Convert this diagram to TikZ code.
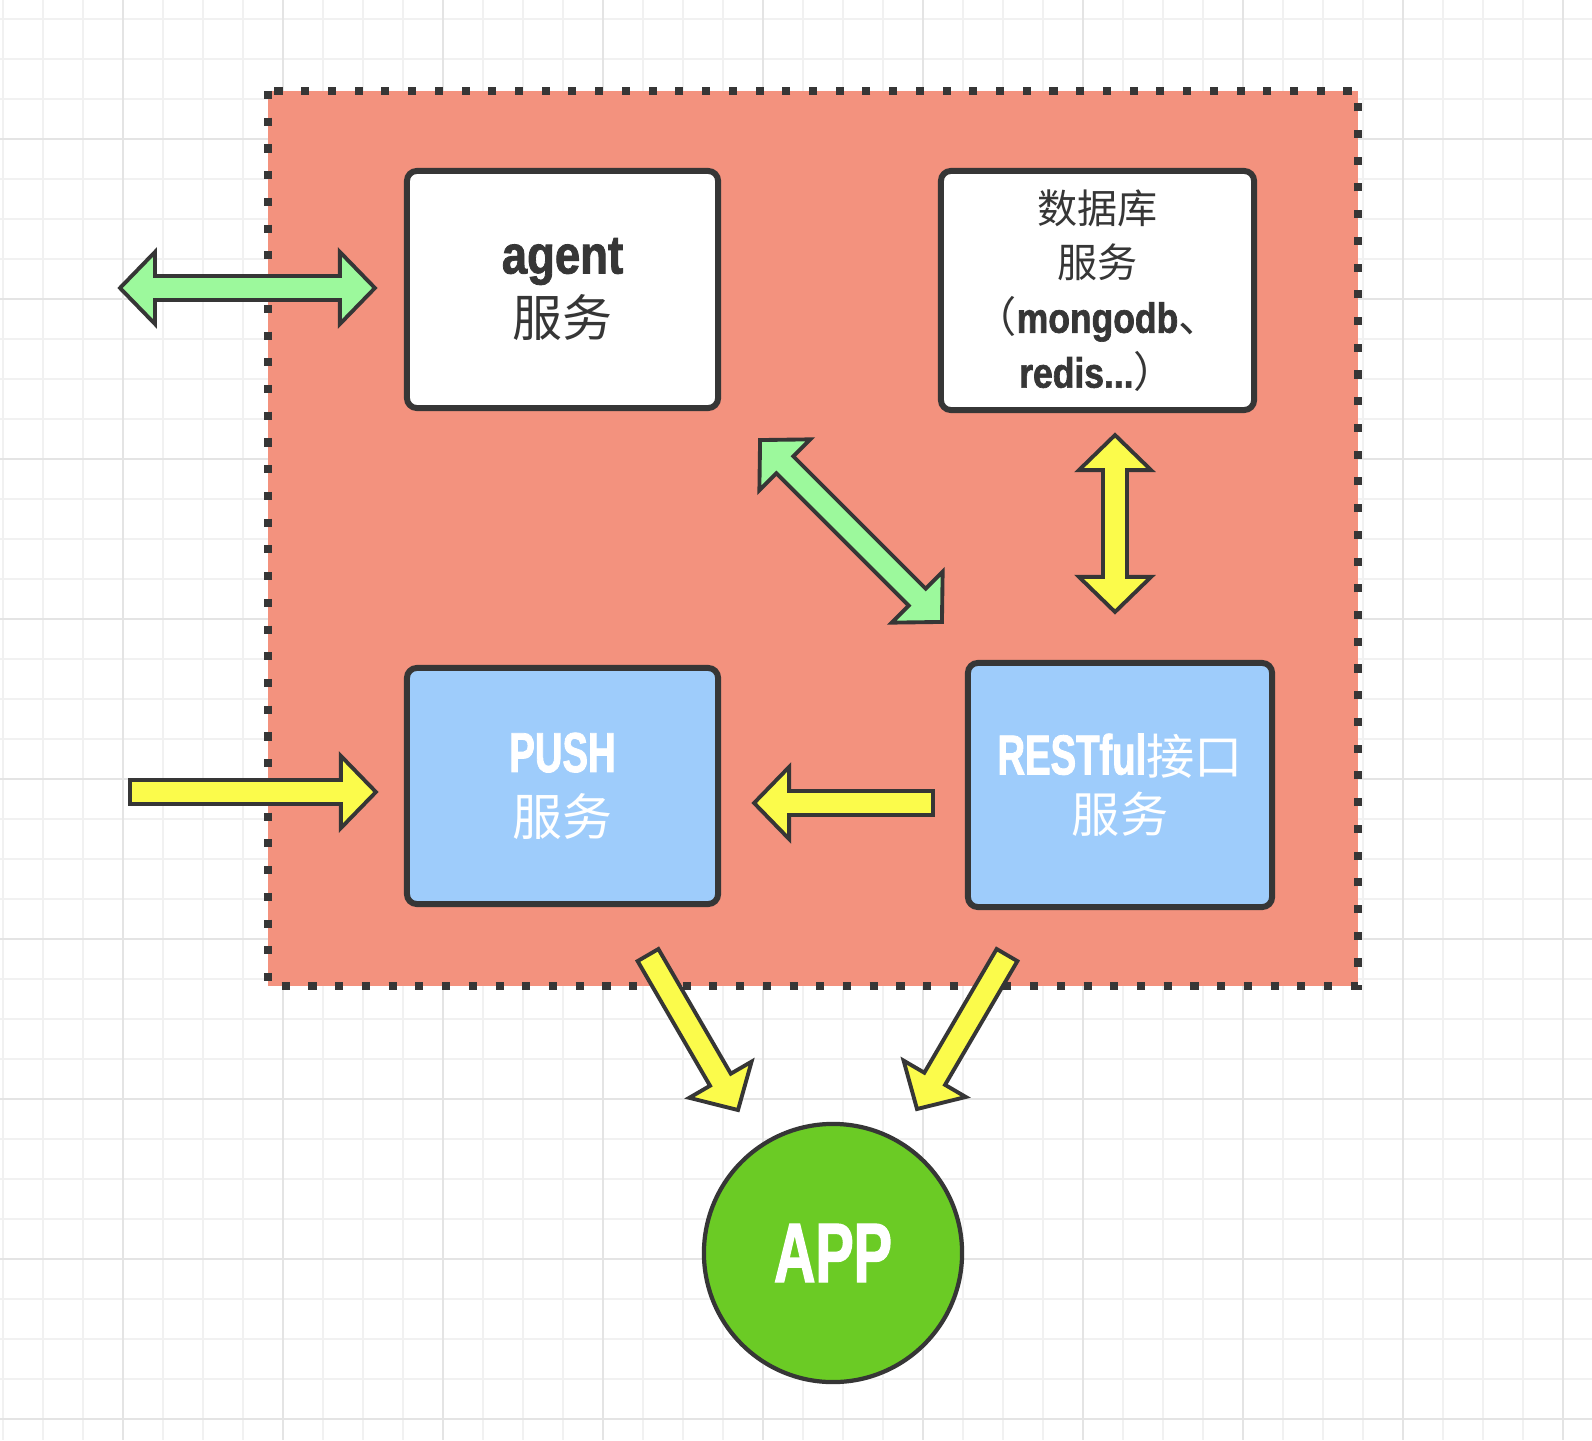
\documentclass[tikz,border=0pt]{standalone}
\usepackage{fontspec}
\usepackage{tikz}
\usetikzlibrary{calc}

\setmainfont{Liberation Sans}
\newfontfamily\cjk{Noto Sans CJK SC}
\newfontfamily\lat[FakeStretch=0.84,FakeBold=1.5]{Liberation Sans}
\newfontfamily\latcap[FakeStretch=0.68,FakeBold=1.5]{Liberation Sans}

\newcommand{\lw}[1]{{\lat\bfseries #1}}
\newcommand{\cw}[1]{{\latcap\bfseries #1}}
\newcommand{\zh}[1]{{\cjk #1}}

\definecolor{bgred}{HTML}{F3927E}
\definecolor{srvblue}{HTML}{9ECCFB}
\definecolor{arrgreen}{HTML}{9CF99C}
\definecolor{arryellow}{HTML}{FBFB4B}
\definecolor{appgreen}{HTML}{6BCB25}
\definecolor{ink}{HTML}{363636}
\definecolor{gridminor}{HTML}{F1F1F1}
\definecolor{gridmajor}{HTML}{E4E4E4}

% fat arrows
\def\shaftw{0.12cm} % half width of shaft
\def\headw{0.36cm} % half width of head
\def\headl{0.35cm} % length of head

% one head: style, tail, tip
\newcommand{\onearrow}[3]{%
  \coordinate (hb) at ($(#3)!\headl!(#2)$);
  \draw[#1] ($(#2)!\shaftw!90:(#3)$) -- ($(hb)!\shaftw!-90:(#2)$) -- ($(hb)!\headw!-90:(#2)$) -- (#3)
    -- ($(hb)!\headw!90:(#2)$) -- ($(hb)!\shaftw!90:(#2)$) -- ($(#2)!\shaftw!-90:(#3)$) -- cycle;}

% two heads: style, tip, tip
\newcommand{\twoarrow}[3]{%
  \coordinate (ha) at ($(#2)!\headl!(#3)$);
  \coordinate (hb) at ($(#3)!\headl!(#2)$);
  \draw[#1] (#2) -- ($(ha)!\headw!90:(#3)$) -- ($(ha)!\shaftw!90:(#3)$) -- ($(hb)!\shaftw!-90:(#2)$)
    -- ($(hb)!\headw!-90:(#2)$) -- (#3) -- ($(hb)!\headw!90:(#2)$) -- ($(hb)!\shaftw!90:(#2)$)
    -- ($(ha)!\shaftw!-90:(#3)$) -- ($(ha)!\headw!-90:(#3)$) -- cycle;}

\begin{document}
\begin{tikzpicture}[x=0.01cm, y=-0.01cm,
  srvbox/.style={draw=ink, line width=1.7pt, rounded corners=0.1cm, align=center, inner sep=0pt,
    minimum width=3.11cm, minimum height=2.37cm, font=\fontsize{14.2pt}{18pt}\selectfont},
  greenarr/.style={draw=ink, fill=arrgreen, line width=1.1pt},
  yellowarr/.style={draw=ink, fill=arryellow, line width=1.1pt}]

	\useasboundingbox (0,0) rectangle (1592,1440);
	\fill[white] (0,0) rectangle (1592,1440);

	% grid
	\foreach \gx in {3,43,...,1563} \draw[gridminor, line width=0.45pt] (\gx,0) -- (\gx,1440);
	\foreach \gy in {19,59,...,1419} \draw[gridminor, line width=0.45pt] (0,\gy) -- (1592,\gy);
	\foreach \gx in {123,283,...,1563} \draw[gridmajor, line width=0.6pt] (\gx,0) -- (\gx,1440);
	\foreach \gy in {139,299,...,1419} \draw[gridmajor, line width=0.6pt] (0,\gy) -- (1592,\gy);

	% server area
	\fill[bgred] (268,91) rectangle (1358,986);
	\draw[ink, line width=2.3pt, dash pattern=on 2.3pt off 5.3pt] (268,91) rectangle (1358,986);

	% services
	\node[srvbox, fill=white, text=ink] (agent) at (562.5,289.5)
		{{\lat\bfseries\fontsize{15.4pt}{18pt}\selectfont agent}\\\zh{服务}};
	\node[srvbox, fill=white, text=ink, minimum width=3.13cm, minimum height=2.39cm,
		font=\fontsize{11.4pt}{15.6pt}\selectfont] (db) at (1097.5,290.5)
		{\zh{数据库}\\\zh{服务}\\{\fontsize{12pt}{15.6pt}\selectfont\zh{（}\lw{mongodb}\zh{、}}\\
		{\fontsize{12pt}{15.6pt}\selectfont\lw{redis...}\zh{）}}};
	\node[srvbox, fill=srvblue, text=white, minimum height=2.36cm] (push) at (562.5,786)
		{{\fontsize{16pt}{18pt}\selectfont\cw{PUSH}}\\\zh{服务}};
	\node[srvbox, fill=srvblue, text=white, minimum width=3.04cm, minimum height=2.44cm,
		font=\fontsize{13.7pt}{16.5pt}\selectfont] (rest) at (1120,785)
		{{\fontsize{16pt}{16.5pt}\selectfont\cw{RESTful}}\zh{接口}\\\zh{服务}};

	% app
	\node[circle, draw=ink, line width=1.2pt, fill=appgreen, text=white, minimum size=2.58cm,
		inner sep=0pt, font=\fontsize{24pt}{26pt}\selectfont] (app) at (833,1253) {\cw{APP}};

	% arrow ends
	\coordinate (agentOut) at (120,288);
	\coordinate (agentIn) at ($(agent.west)+(-29,-1.5)$);
	\coordinate (agentDiag) at ($(agent.south east)+(39,29)$);
	\coordinate (restDiag) at ($(rest.north west)+(-23,-38)$);
	\coordinate (dbDown) at ($(db.south)+(17.5,22)$);
	\coordinate (restUp) at ($(rest.north)+(-5,-48)$);
	\coordinate (pushOut) at (130,792);
	\coordinate (pushIn) at ($(push.west)+(-28,6)$);
	\coordinate (restOut) at ($(rest.west)+(-32,18)$);
	\coordinate (pushRight) at ($(push.east)+(33,17)$);
	\coordinate (pushDown) at ($(push.south)+(85.5,48)$);
	\coordinate (appLeft) at ($(app.center)+(-95,-143)$);
	\coordinate (restDown) at ($(rest.south)+(-113,45)$);
	\coordinate (appRight) at ($(app.center)+(84,-144)$);

	% arrows
	\twoarrow{greenarr}{agentOut}{agentIn}
	\twoarrow{greenarr}{agentDiag}{restDiag}
	\twoarrow{yellowarr}{dbDown}{restUp}
	\onearrow{yellowarr}{pushOut}{pushIn}
	\onearrow{yellowarr}{restOut}{pushRight}
	\onearrow{yellowarr}{pushDown}{appLeft}
	\onearrow{yellowarr}{restDown}{appRight}
\end{tikzpicture}
\end{document}
